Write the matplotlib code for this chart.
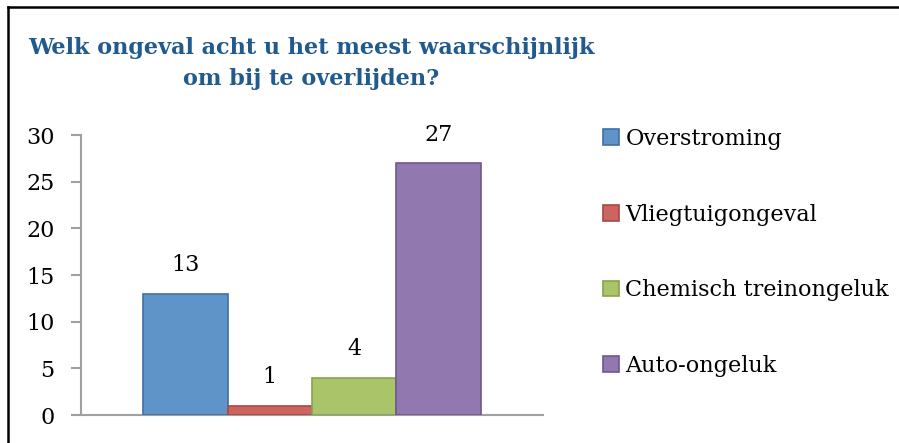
import matplotlib
matplotlib.use("Agg")
import matplotlib.pyplot as plt
from matplotlib.lines import Line2D

categories = ["Overstroming", "Vliegtuigongeval", "Chemisch treinongeluk", "Auto-ongeluk"]
values = [13, 1, 4, 27]
yticks = [0, 5, 10, 15, 20, 25, 30]
title = "Welk ongeval acht u het meest waarschijnlijk\nom bij te overlijden?"

fills = ["#5F94C8", "#CD6460", "#AAC46A", "#9179B0"]
edges = ["#3F6FA6", "#A94744", "#89A34B", "#70578F"]

W, H = 899, 443
fig = plt.figure(figsize=(W / 100, H / 100), dpi=100)
fig.patch.set_facecolor("white")
plt.rcParams["font.family"] = ["DejaVu Serif"]

ax = fig.add_axes([81 / W, 1 - 415 / H, (543 - 81) / W, (415 - 135) / H])
x = list(range(len(values)))
bars = ax.bar(x, values, width=1.0, color=fills, edgecolor=edges, linewidth=1.2,
              zorder=3)
for b, lab in zip(bars, categories):
    b.set_label(lab)
for xi, v in zip(x, values):
    ax.annotate(str(v), (xi, v), xytext=(0, 20.5), textcoords="offset points",
                ha="center", va="center", fontsize=16, color="black")

ax.set_xlim(-1.234, 4.234)
ax.set_ylim(0, 30)
ax.set_yticks(yticks)
ax.set_yticklabels([str(t) for t in yticks], fontsize=16)
ax.set_xticks([])
for s in ["top", "right"]:
    ax.spines[s].set_visible(False)
for s in ["left", "bottom"]:
    ax.spines[s].set_color("#A0A0A0")
    ax.spines[s].set_linewidth(1.5)
ax.tick_params(axis="y", length=7, width=1.5, color="#A0A0A0", pad=12)

fig.text(311 / W, 1 - 63.5 / H, title, ha="center", va="center", fontsize=16.1,
         fontweight="bold", color="#215A8E", linespacing=1.5)

leg = fig.legend(handles=list(bars), labels=categories, loc="upper left",
                 bbox_to_anchor=(603 / W, 1 - 128 / H), frameon=False,
                 fontsize=16.1, handlelength=0.7, handleheight=0.7,
                 handletextpad=0.3, labelspacing=2.4, borderaxespad=0, borderpad=0)

fig.add_artist(Line2D([8 / W, 8 / W], [0, 1 - 7 / H], color="black", lw=1.8))
fig.add_artist(Line2D([8 / W, 1], [1 - 7 / H, 1 - 7 / H], color="black", lw=1.8))

fig.savefig("out.png", dpi=100)
